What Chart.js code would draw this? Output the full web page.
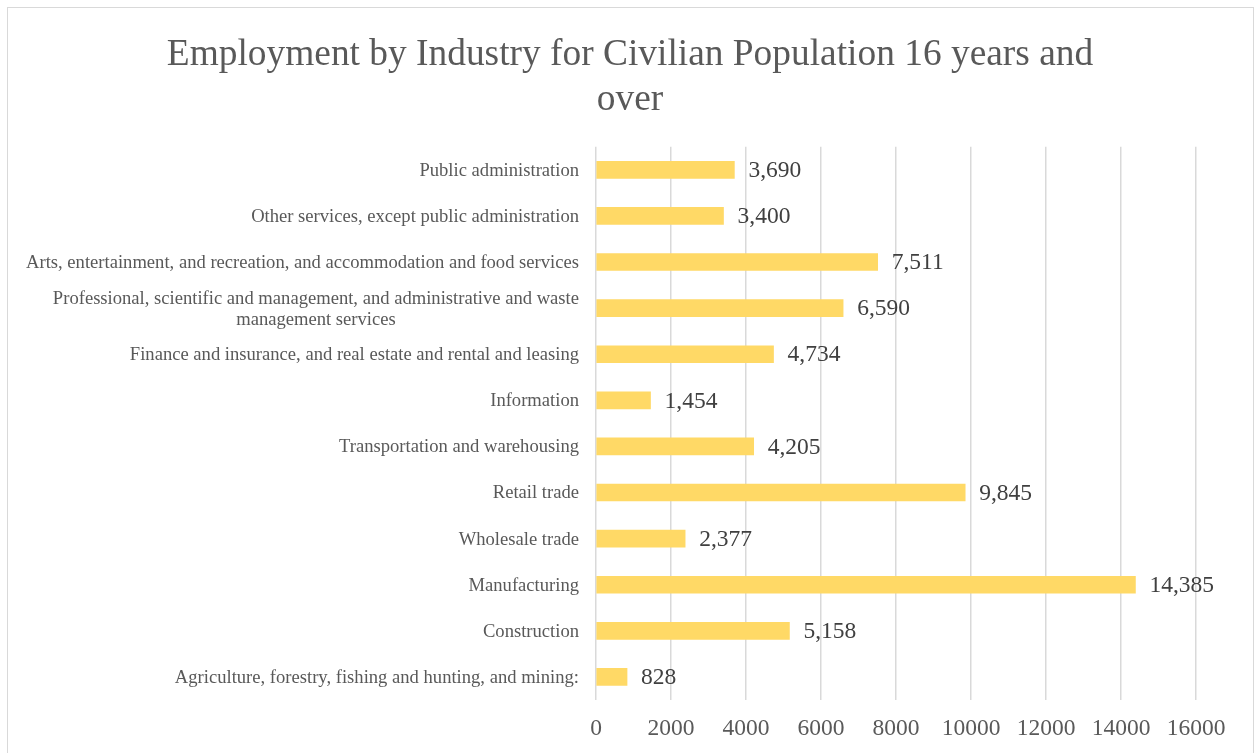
<!DOCTYPE html>
<html lang="en">
  <head>
    <meta charset="UTF-8" />
    <title>Employment by Industry</title>
    <script src="https://cdn.jsdelivr.net/npm/chart.js@4.4.0/dist/chart.umd.min.js"></script>
    <style>
      body {
        margin: 0;
        background: #fff;
        overflow: hidden;
      }
      .wrap {
        position: relative;
        width: 1256px;
        height: 753px;
      }
      .frame {
        position: absolute;
        left: 7px;
        top: 7px;
        width: 1245px;
        height: 800px;
        border: 1px solid #d9d9d9;
        pointer-events: none;
      }
    </style>
  </head>
  <body>
    <div class="wrap">
      <canvas id="industryChart" width="1256" height="753"></canvas>
      <div class="frame"></div>
    </div>

    <script>
      const industries = [
        'Public administration',
        'Other services, except public administration',
        'Arts, entertainment, and recreation, and accommodation and food services',
        ['Professional, scientific and management, and administrative and waste', 'management services'],
        'Finance and insurance, and real estate and rental and leasing',
        'Information',
        'Transportation and warehousing',
        'Retail trade',
        'Wholesale trade',
        'Manufacturing',
        'Construction',
        'Agriculture, forestry, fishing and hunting, and mining:'
      ];
      const employed = [3690, 3400, 7511, 6590, 4734, 1454, 4205, 9845, 2377, 14385, 5158, 828];
      const xTicks = [0, 2000, 4000, 6000, 8000, 10000, 12000, 14000, 16000];

      const serif = '"Liberation Serif", "Times New Roman", serif';

      // category names: right edge fixed, wrapped lines centred on each other
      const categoryLabels = {
        id: 'categoryLabels',
        afterDraw(chart) {
          const ctx = chart.ctx;
          const yScale = chart.scales.y;
          const right = yScale.right - 17;
          ctx.save();
          ctx.font = '18.6px ' + serif;
          ctx.fillStyle = '#595959';
          ctx.textBaseline = 'middle';
          industries.forEach((label, i) => {
            const y = yScale.getPixelForTick(i) + 1;
            const lines = Array.isArray(label) ? label : [label];
            const widest = Math.max(...lines.map((l) => ctx.measureText(l).width));
            const cx = right - widest / 2;
            const lh = 21;
            ctx.textAlign = 'center';
            lines.forEach((l, j) => {
              ctx.fillText(l, cx, y + (j - (lines.length - 1) / 2) * lh);
            });
          });
          ctx.restore();
        }
      };

      // value at the end of each bar
      const valueLabels = {
        id: 'valueLabels',
        afterDatasetsDraw(chart) {
          const ctx = chart.ctx;
          const meta = chart.getDatasetMeta(0);
          ctx.save();
          ctx.font = '23.5px ' + serif;
          ctx.fillStyle = '#404040';
          ctx.textAlign = 'left';
          ctx.textBaseline = 'middle';
          meta.data.forEach((bar, i) => {
            ctx.fillText(employed[i].toLocaleString('en-US'), bar.x + 14, bar.y + 1);
          });
          ctx.restore();
        }
      };

      new Chart(document.getElementById('industryChart'), {
        type: 'bar',
        data: {
          labels: industries,
          datasets: [
            {
              data: employed,
              backgroundColor: '#FFD966',
              barThickness: 17
            }
          ]
        },
        options: {
          indexAxis: 'y',
          responsive: false,
          animation: false,
          layout: { padding: { left: 64, right: 60, top: 0, bottom: 0 } },
          plugins: {
            legend: { display: false },
            tooltip: { enabled: false },
            title: {
              display: true,
              text: ['Employment by Industry for Civilian Population 16 years and', 'over'],
              color: '#595959',
              font: { family: serif, size: 37.4, weight: 'normal', lineHeight: 1.2 },
              padding: { top: 33, bottom: 24 }
            }
          },
          scales: {
            x: {
              min: 0,
              max: 16000,
              afterBuildTicks(scale) {
                scale.ticks = xTicks.map((v) => ({ value: v }));
              },
              afterFit(scale) {
                scale.height = 53;
              },
              border: { display: false },
              grid: { color: '#d9d9d9', lineWidth: 1.5, drawTicks: false },
              ticks: {
                padding: 15,
                color: '#595959',
                font: { family: serif, size: 23.5 },
                callback: (v) => String(v)
              }
            },
            y: {
              afterFit(scale) {
                scale.width = 532;
              },
              border: { display: false },
              grid: { display: false },
              ticks: { display: false }
            }
          }
        },
        plugins: [categoryLabels, valueLabels]
      });
    </script>
  </body>
</html>
